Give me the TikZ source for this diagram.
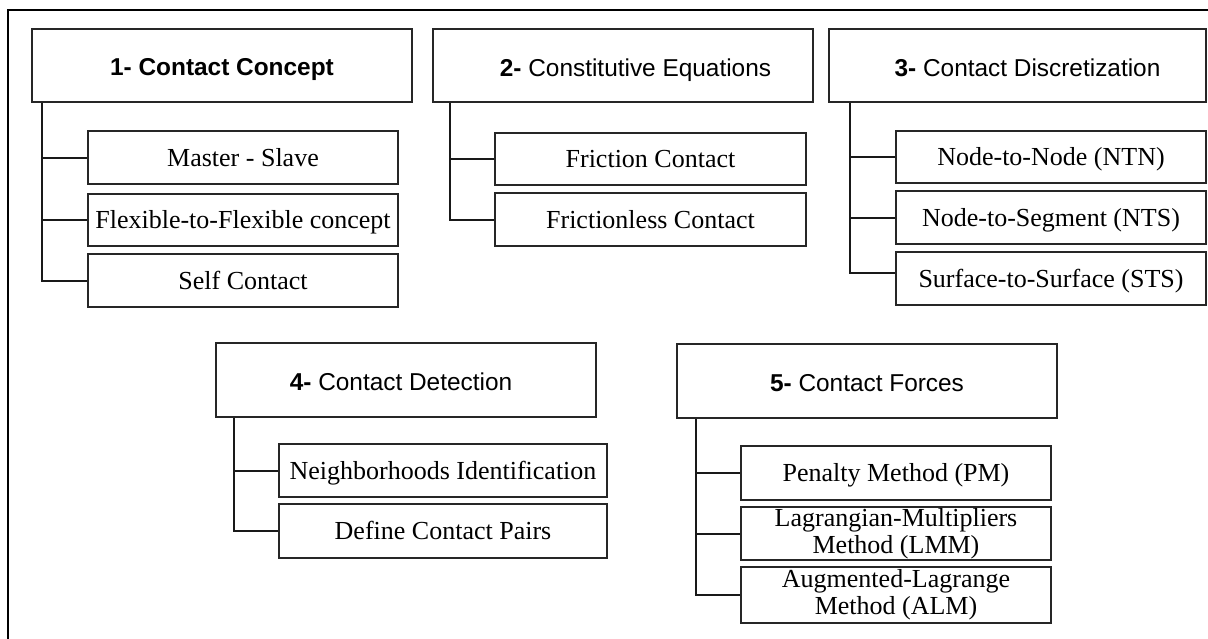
\documentclass[tikz,border=0pt]{standalone}
\usepackage{fontspec}
\setmainfont{Liberation Serif}
\newfontfamily\headfont{Liberation Sans}
\usetikzlibrary{calc}

\tikzset{
  head/.style={draw=black!85, line width=2pt, fill=white, inner sep=0pt,
    minimum width=380pt, minimum height=73pt, text height=21pt, text depth=0pt,
    font=\headfont\fontsize{24.4}{28}\selectfont},
  itembase/.style={draw=black!85, line width=2pt, fill=white, inner sep=0pt,
    minimum width=310pt, minimum height=53pt, align=center,
    font=\fontsize{26}{27}\selectfont},
  item/.style={itembase, text height=17.5pt, text depth=0pt},
  itemtwo/.style={itembase},
  link/.style={draw=black!90, line width=2pt}
}

\begin{document}
\begin{tikzpicture}[x=1pt, y=-1pt]
\useasboundingbox (0,0) rectangle (1208,638);

% outer frame (only the top and left edges lie inside the page)
\draw[line width=2pt] (8,640) -- (8,10) -- (1210,10);

% group 1
\node[head] (h1) at (222,65) {\textbf{1- Contact Concept}};
\node[item, minimum height=53pt] (c1a) at (243,157.5) {Master - Slave};
\node[item, minimum height=52pt] (c1b) at (243,220) {Flexible-to-Flexible concept};
\node[item, minimum height=53pt] (c1c) at (243,280.5) {Self Contact};
\coordinate (t1) at ($(h1.south west)+(11,0)$);
\draw[link] (t1) |- (c1a.west);
\draw[link] (t1) |- (c1b.west);
\draw[link] (t1) |- (c1c.west);

% group 2
\node[head] (h2) at (623,65.5) {\hspace*{25pt}\textbf{2-} Constitutive Equations};
\node[item, minimum width=311pt, minimum height=52pt] (c2a) at (650.5,159) {Friction Contact};
\node[item, minimum width=311pt, minimum height=53pt] (c2b) at (650.5,219.5) {Frictionless Contact};
\coordinate (t2) at ($(h2.south west)+(18,0)$);
\draw[link] (t2) |- (c2a.west);
\draw[link] (t2) |- (c2b.west);

% group 3
\node[head, minimum width=377pt] (h3) at (1017.5,65.5) {\hspace*{20pt}\textbf{3-} Contact Discretization};
\node[item, minimum height=52pt] (c3a) at (1051,157) {Node-to-Node (NTN)};
\node[item, minimum height=53pt] (c3b) at (1051,217.5) {Node-to-Segment (NTS)};
\node[item, minimum height=53pt] (c3c) at (1051,278.5) {Surface-to-Surface (STS)};
\coordinate (t3) at ($(h3.south west)+(22,0)$);
\draw[link] (t3) |- (c3a.west);
\draw[link] (t3) |- (c3b.west);
\draw[link] (t3) |- ([yshift=5.5pt]c3c.west);

% group 4
\node[head, minimum height=74pt] (h4) at (406,380) {\hspace*{-10pt}\textbf{4-} Contact Detection};
\node[item, minimum width=328pt, minimum height=53pt] (c4a) at (443,470.5) {Neighborhoods Identification};
\node[item, minimum width=328pt, minimum height=54pt] (c4b) at (443,531) {Define Contact Pairs};
\coordinate (t4) at ($(h4.south west)+(19,0)$);
\draw[link] (t4) |- (c4a.west);
\draw[link] (t4) |- (c4b.west);

% group 5
\node[head, minimum height=74pt] (h5) at (867,381) {\textbf{5-} Contact Forces};
\node[item, minimum height=54pt] (c5a) at (896,473) {Penalty Method (PM)};
\node[itemtwo, minimum height=53pt] (c5b) at (896,533.5) {Lagrangian-Multipliers\\Method (LMM)};
\node[itemtwo, minimum height=56pt] (c5c) at (896,595) {Augmented-Lagrange\\Method (ALM)};
\coordinate (t5) at ($(h5.south west)+(20,0)$);
\draw[link] (t5) |- (c5a.west);
\draw[link] (t5) |- (c5b.west);
\draw[link] (t5) |- (c5c.west);
\end{tikzpicture}
\end{document}
